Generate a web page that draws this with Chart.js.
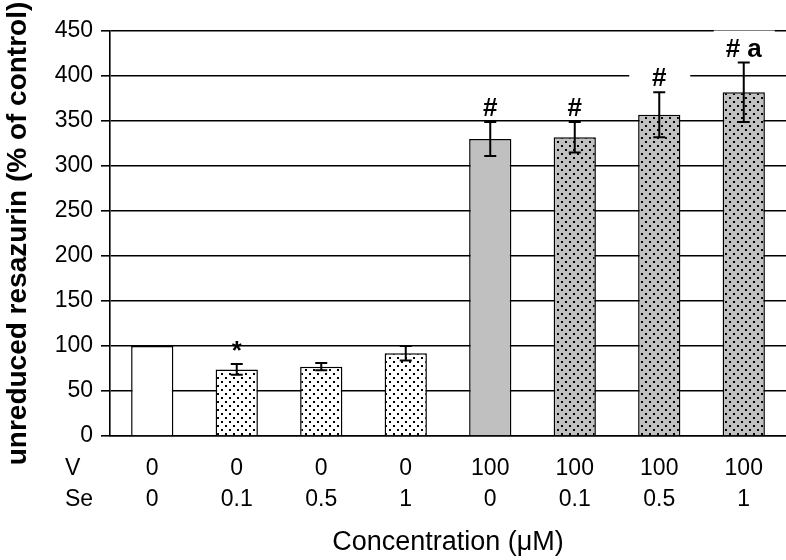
<!DOCTYPE html>
<html>
<head>
<meta charset="utf-8">
<script src="https://cdn.jsdelivr.net/npm/chart.js@4.4.1/dist/chart.umd.min.js"></script>
<style>
  html, body { margin: 0; padding: 0; background: #fff; }
  #wrap { width: 786px; height: 560px; }
</style>
</head>
<body>
<div id="wrap"><canvas id="resazurinChart"></canvas></div>
<script>
// Data
const vConc = ['0', '0', '0', '0', '100', '100', '100', '100'];
const seConc = ['0', '0.1', '0.5', '1', '0', '0.1', '0.5', '1'];
const resazurin = [100, 74, 77, 92, 330, 332, 357, 382];
const errors = [0, 6, 4, 8, 19, 17, 25, 33];
const marks = ['', '*', '', '', '#', '#', '#', '# a'];
const rowNames = ['V', 'Se'];

// fill patterns
function dotPattern(bg) {
    const c = document.createElement('canvas');
    c.width = 8;
    c.height = 8;
    const p = c.getContext('2d');
    p.fillStyle = bg;
    p.fillRect(0, 0, 8, 8);
    p.fillStyle = '#000';
    p.fillRect(1, 1, 2, 2);
    p.fillRect(5, 5, 2, 2);
    return p.createPattern(c, 'repeat');
}
const dotsWhite = dotPattern('#ffffff');
const dotsGray = dotPattern('#c0c0c0');
const barFills = ['#ffffff', dotsWhite, dotsWhite, dotsWhite, '#c0c0c0', dotsGray, dotsGray, dotsGray];

const errorBars = {
    id: 'errorBars',
    afterDatasetsDraw(chart) {
        const ctx = chart.ctx;
        const meta = chart.getDatasetMeta(0);
        const y = chart.scales.y;
        ctx.save();
        ctx.strokeStyle = '#000';
        ctx.lineWidth = 2;
        meta.data.forEach((bar, i) => {
            if (!errors[i]) return;
            const top = y.getPixelForValue(resazurin[i] + errors[i]);
            const bot = y.getPixelForValue(resazurin[i] - errors[i]);
            ctx.beginPath();
            ctx.moveTo(bar.x, top);
            ctx.lineTo(bar.x, bot);
            ctx.moveTo(bar.x - 6, top);
            ctx.lineTo(bar.x + 6, top);
            ctx.moveTo(bar.x - 6, bot);
            ctx.lineTo(bar.x + 6, bot);
            ctx.stroke();
        });

        // significance marks
        ctx.font = 'bold 26px Arial, "Liberation Sans", sans-serif';
        ctx.textAlign = 'center';
        ctx.textBaseline = 'alphabetic';
        meta.data.forEach((bar, i) => {
            if (!marks[i]) return;
            const top = y.getPixelForValue(resazurin[i] + errors[i]);
            const base = top - 6;
            if (marks[i].indexOf('#') >= 0) {
                ctx.fillStyle = '#fff';
                ctx.fillRect(bar.x - 30, base - 26, 61, 26);
            }
            ctx.fillStyle = '#000';
            ctx.fillText(marks[i], bar.x, marks[i] === '*' ? base + 1 : base);
        });

        // row names of the x labels
        const x = chart.scales.x;
        const items = x.getLabelItems();
        if (items && items.length) {
            const it = items[0];
            ctx.font = it.font.string;
            ctx.textAlign = 'left';
            ctx.textBaseline = it.options.textBaseline;
            const y0 = it.options.translation[1] + it.textOffset;
            rowNames.forEach((name, k) => {
                ctx.fillText(name, 65, y0 + k * it.font.lineHeight);
            });
        }
        ctx.restore();
    }
};

const ctx = document.getElementById('resazurinChart').getContext('2d');
new Chart(ctx, {
    type: 'bar',
    data: {
        labels: vConc.map((v, i) => [v, seConc[i]]),
        datasets: [{
            data: resazurin,
            backgroundColor: barFills,
            borderColor: '#000',
            borderWidth: 1.5,
            barPercentage: 0.5,
            categoryPercentage: 1.0
        }]
    },
    options: {
        responsive: true,
        maintainAspectRatio: false,
        animation: false,
        layout: { padding: { top: 31, right: 0, bottom: 0, left: 0 } },
        plugins: {
            legend: { display: false },
            tooltip: { enabled: false }
        },
        scales: {
            x: {
                afterFit(scale) { scale.height = 124; },
                grid: { display: false, drawTicks: false },
                border: { display: true, color: '#000', width: 1.5 },
                ticks: {
                    color: '#000',
                    padding: 17,
                    maxRotation: 0,
                    autoSkip: false,
                    font: { family: 'Arial, "Liberation Sans", sans-serif', size: 23, lineHeight: 1.35 }
                },
                title: {
                    display: true,
                    text: 'Concentration (\u03bcM)',
                    color: '#000',
                    padding: { top: 0, bottom: 1 },
                    font: { family: 'Arial, "Liberation Sans", sans-serif', size: 27 }
                }
            },
            y: {
                min: 0,
                max: 450,
                afterFit(scale) { scale.width = 110; },
                grid: { color: '#000', lineWidth: 1.6, tickLength: 9, drawTicks: true },
                border: { display: true, color: '#000', width: 1.6 },
                ticks: {
                    stepSize: 50,
                    color: '#000',
                    padding: 8,
                    font: { family: 'Arial, "Liberation Sans", sans-serif', size: 23 }
                },
                title: {
                    display: true,
                    text: 'unreduced resazurin (% of control)',
                    color: '#000',
                    padding: { top: 1, bottom: 0 },
                    font: { family: 'Arial, "Liberation Sans", sans-serif', size: 28, weight: 'bold' }
                }
            }
        }
    },
    plugins: [errorBars]
});
</script>
</body>
</html>
